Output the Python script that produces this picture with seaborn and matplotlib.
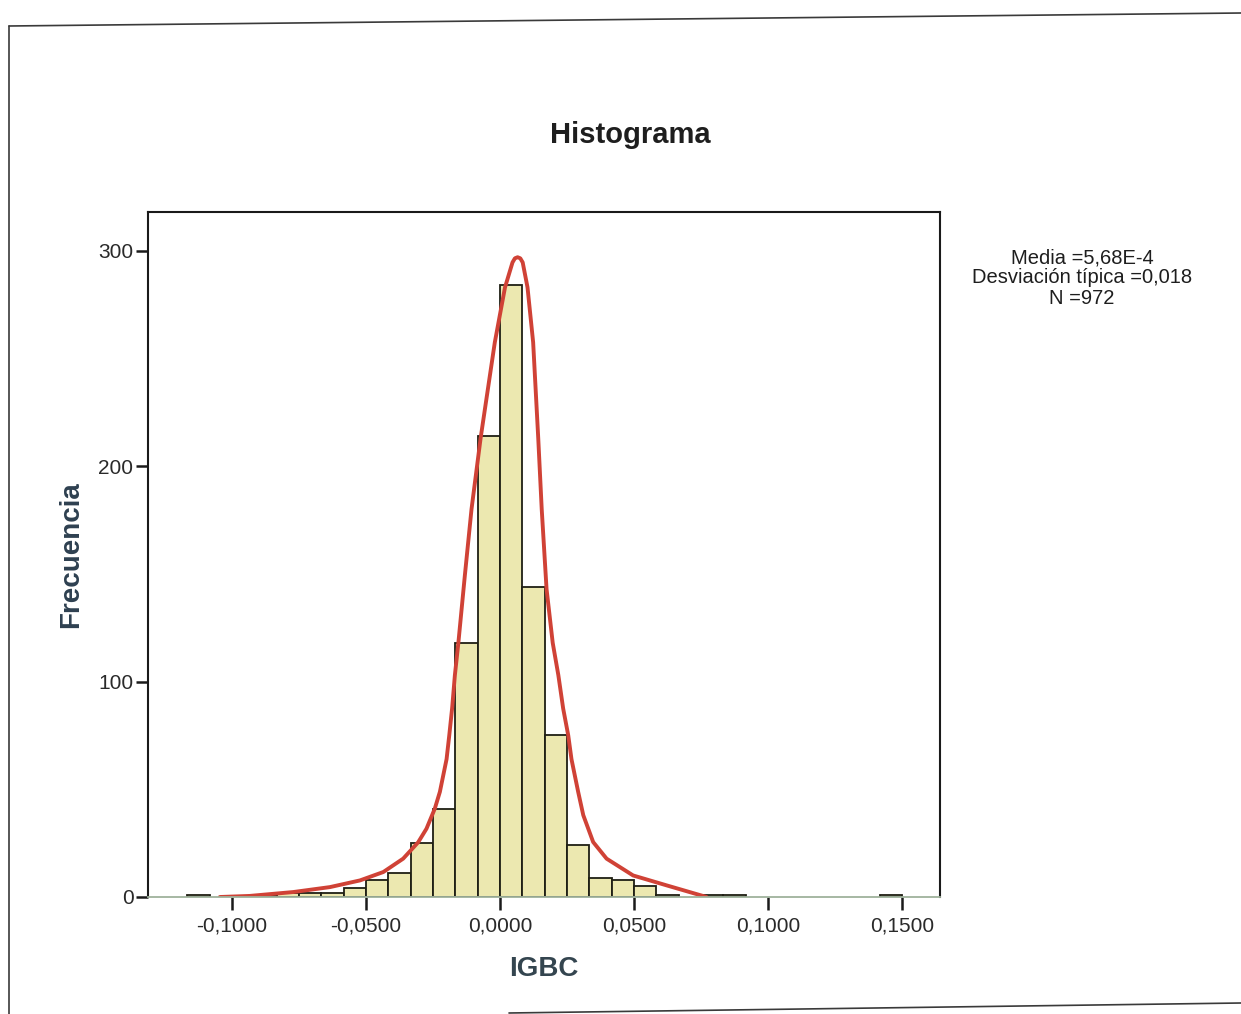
import numpy as np
import pandas as pd
import matplotlib
matplotlib.use("Agg")
import matplotlib.pyplot as plt
from matplotlib.lines import Line2D
import seaborn as sns

# ---- data -------------------------------------------------------------
BIN_WIDTH = 0.05 / 6
bin_index = list(range(-14, 18))            # bin k spans [k*w, (k+1)*w]
counts = [1, 0, 0, 1, 2, 2, 2, 4, 8, 11, 25, 41, 118, 214, 284, 144,
          75, 24, 9, 8, 5, 1, 0, 1, 1, 0, 0, 0, 0, 0, 0, 1]

# fitted curve, read as (x, frequency) pairs
curve_x = [-0.1045, -0.0933, -0.0771, -0.0634, -0.0522, -0.0435, -0.0361,
           -0.0305, -0.0274, -0.0243, -0.0224, -0.0199, -0.0189, -0.0178,
           -0.0168, -0.0155, -0.0131, -0.0106, -0.0072, -0.0019, 0.0019,
           0.0047, 0.0056, 0.0066, 0.0076, 0.0085, 0.0103, 0.0124, 0.0143,
           0.0156, 0.0174, 0.0197, 0.0218, 0.0236, 0.0255, 0.0267, 0.0292,
           0.0311, 0.0348, 0.0398, 0.0497, 0.0622, 0.0771]
curve_y = [0, 0.5, 2.3, 4.6, 7.7, 11.6, 17.8,
           25.4, 31.7, 41, 48.8, 64, 75, 88,
           103, 118, 149, 180, 213, 257.5, 283,
           294.6, 296.5, 297, 296.5, 294.6, 283, 257.5, 213,
           180, 143, 118, 103, 87.5, 75, 64, 48.8,
           38, 25.5, 17.8, 10, 5.4, 0]

x_ticks = [-0.10, -0.05, 0.0, 0.05, 0.10, 0.15]
x_tick_labels = ["-0,1000", "-0,0500", "0,0000", "0,0500", "0,1000", "0,1500"]
y_ticks = [0, 100, 200, 300]
y_tick_labels = ["0", "100", "200", "300"]

title = "Histograma"
x_label = "IGBC"
y_label = "Frecuencia"
stats_lines = ["Media =5,68E-4", "Desviación típica =0,018", "N =972"]

# ---- style ------------------------------------------------------------
sns.set_style("white")
plt.rcParams["font.family"] = ["Liberation Sans", "DejaVu Sans"]

W, H = 1241, 1014
fig = plt.figure(figsize=(W / 100, H / 100), dpi=100)
fig.patch.set_facecolor("white")

ax_l, ax_r, ax_t, ax_b = 148, 940, 212, 897
ax = fig.add_axes([ax_l / W, 1 - ax_b / H, (ax_r - ax_l) / W, (ax_b - ax_t) / H])

edges = [k * BIN_WIDTH for k in bin_index + [bin_index[-1] + 1]]
centers = [(k + 0.5) * BIN_WIDTH for k in bin_index]
df = pd.DataFrame({"IGBC": centers, "n": counts})

sns.histplot(data=df, x="IGBC", weights="n", bins=edges, ax=ax,
             color="#ece8b0", edgecolor="#1f1f14", linewidth=1.3, alpha=1.0)
for p in list(ax.patches):
    if p.get_height() == 0:
        p.remove()

curve = pd.DataFrame({"x": curve_x, "y": curve_y})
sns.lineplot(data=curve, x="x", y="y", ax=ax, sort=False, color="#d04236",
             linewidth=2.8, solid_capstyle="round", solid_joinstyle="round")

ax.set_xlim(-0.1313, 0.1642)
ax.set_ylim(0, 318)
ax.set_xticks(x_ticks)
ax.set_xticklabels(x_tick_labels)
ax.set_yticks(y_ticks)
ax.set_yticklabels(y_tick_labels)
ax.tick_params(axis="both", which="major", direction="out", length=9,
               width=1.8, color="#1a1a1a", labelsize=15,
               labelcolor="#2a2a2a", bottom=True, left=True)
ax.tick_params(axis="x", pad=5)
ax.tick_params(axis="y", pad=1.5)

for side in ["left", "top", "right"]:
    ax.spines[side].set_color("#1a1a1a")
    ax.spines[side].set_linewidth(1.5)
ax.spines["bottom"].set_color("#9fb29c")
ax.spines["bottom"].set_linewidth(1.3)

ax.set_xlabel(x_label, fontsize=20, fontweight="bold", color="#34454f")
ax.xaxis.set_label_coords(0.5, -0.086)
ax.set_ylabel(y_label, fontsize=20, fontweight="bold", color="#2e4050")
ax.yaxis.set_label_coords(-0.081, 0.5)

fig.text(630 / W, 1 - 142.7 / H, title, ha="center", va="baseline",
         fontsize=21, fontweight="bold", color="#1e1e1e")

for i, line in enumerate(stats_lines):
    fig.text(1082 / W, 1 - (263 + 20.5 * i) / H, line, ha="center",
             va="baseline", fontsize=14.5, color="#1e1e1e")

# page frame around the chart
frame_kw = dict(transform=fig.transFigure, color="#3a3a3a", linewidth=1.2)
fig.add_artist(Line2D([9 / W, 1.0], [1 - 26 / H, 1 - 13 / H], **frame_kw))
fig.add_artist(Line2D([9 / W, 9 / W], [1 - 26 / H, 0.0], **frame_kw))
fig.add_artist(Line2D([509 / W, 1.0], [1 - 1013 / H, 1 - 1003 / H], **frame_kw))

fig.savefig("out.png", dpi=100, facecolor="white")
